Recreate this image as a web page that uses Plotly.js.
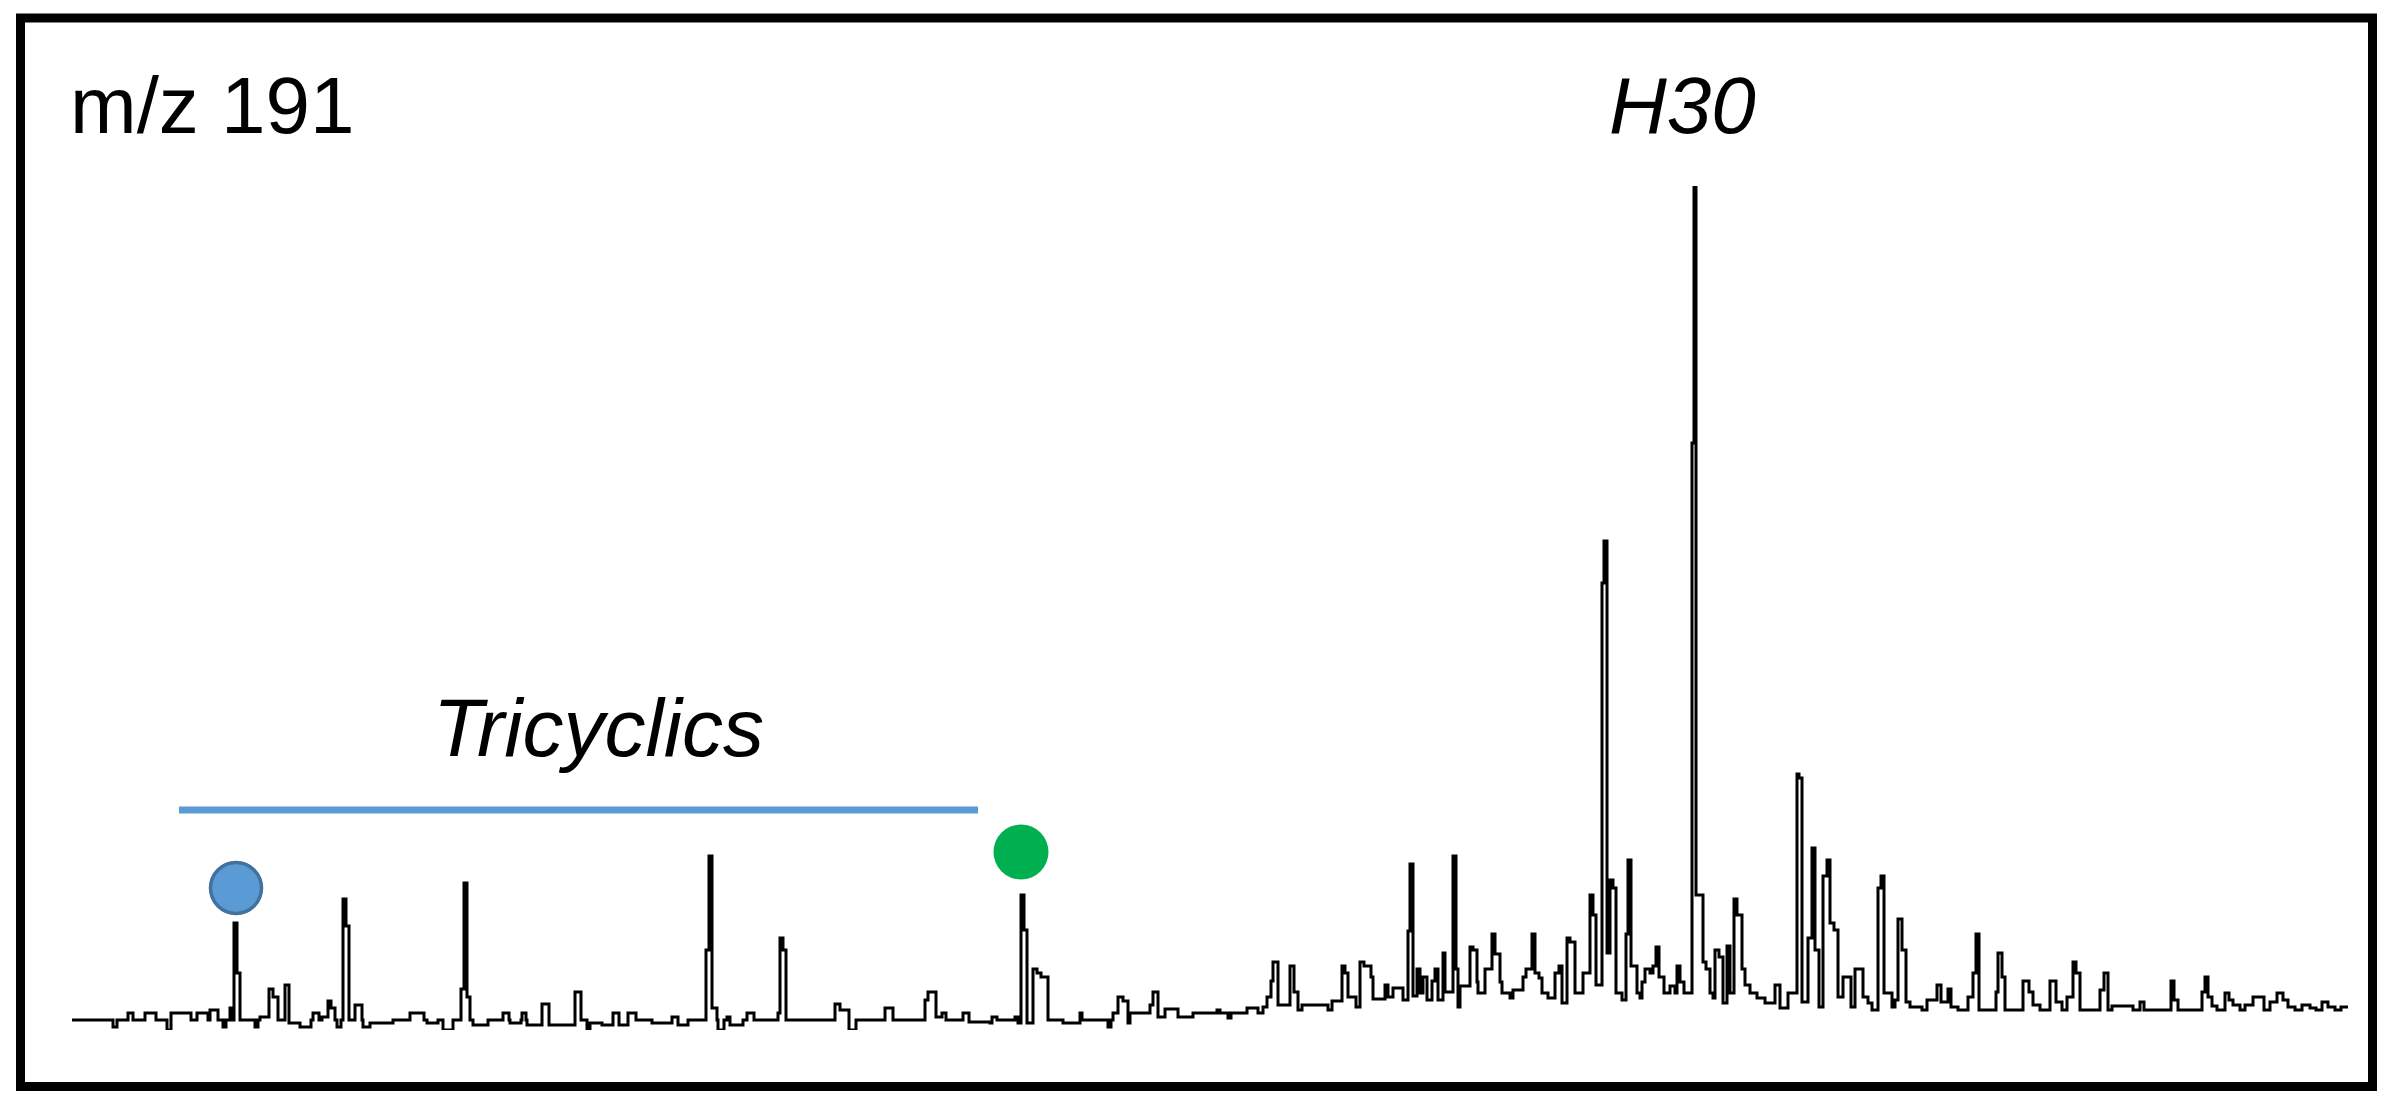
<!DOCTYPE html>
<html>
<head>
<meta charset="utf-8">
<script src="https://cdn.plot.ly/plotly-3.0.1.min.js"></script>
<style>
  html, body { margin: 0; padding: 0; background: #ffffff; }
  #chart { width: 2391px; height: 1108px; }
</style>
</head>
<body>
<div id="chart"></div>
<script>
// ---- Data (m/z 191) ----
// scan: scan number (arbitrary units), abundance: relative abundance (arbitrary units)
const scan = [0,41,45,56,61,73,84,95,99,119,125,136,138,146,151,154,158,161,162,165,168,183,186,188,197,201,206,213,217,228,239,241,247,250,256,259,263,265,269,271,274,277,283,290,291,298,321,338,352,355,366,371,381,389,392,395,398,401,416,431,437,438,449,450,454,455,470,477,503,509,515,518,530,541,547,556,564,580,600,606,616,634,637,640,645,646,652,655,658,671,675,682,706,708,711,714,763,768,777,784,813,821,853,856,864,870,874,891,897,918,920,925,943,946,949,952,955,961,965,969,976,991,1008,1010,1036,1039,1041,1046,1051,1056,1058,1078,1081,1086,1093,1106,1121,1145,1148,1156,1159,1175,1186,1191,1195,1199,1201,1206,1218,1222,1226,1230,1256,1260,1270,1273,1276,1284,1288,1292,1299,1301,1313,1316,1321,1331,1336,1338,1341,1345,1348,1351,1355,1360,1363,1366,1371,1373,1381,1384,1386,1388,1398,1401,1405,1406,1413,1420,1423,1428,1430,1438,1441,1451,1454,1460,1463,1467,1470,1476,1483,1487,1490,1495,1498,1503,1511,1518,1521,1524,1530,1532,1535,1538,1541,1544,1550,1554,1556,1559,1565,1568,1570,1573,1578,1581,1584,1587,1592,1598,1603,1605,1608,1612,1620,1622,1624,1631,1634,1638,1641,1643,1647,1651,1655,1658,1662,1665,1670,1673,1678,1685,1693,1703,1708,1716,1725,1727,1730,1736,1740,1743,1747,1751,1755,1758,1762,1766,1771,1779,1783,1791,1796,1800,1806,1809,1812,1820,1823,1826,1830,1834,1838,1850,1855,1865,1869,1876,1879,1886,1896,1901,1904,1907,1924,1926,1930,1933,1951,1957,1961,1968,1978,1984,1990,1995,2001,2004,2008,2028,2032,2036,2040,2061,2068,2072,2099,2102,2106,2130,2133,2136,2140,2145,2153,2157,2161,2168,2173,2181,2192,2198,2205,2211,2216,2223,2230,2238,2244,2250,2256,2263,2269,2276];
const abundance = [10,3,10,17,10,17,10,0,17,10,17,10,20,10,3,10,22,10,107,57,10,3,10,13,41,33,10,45,7,3,10,17,10,13,29,22,10,3,10,131,104,10,25,10,3,7,10,17,10,7,10,0,10,41,147,33,10,5,10,17,10,7,10,17,10,5,26,5,38,10,0,7,5,17,5,17,10,7,13,5,10,80,174,22,10,0,10,13,5,10,17,10,17,92,80,10,26,20,0,10,22,10,30,38,13,17,10,17,8,7,13,10,13,7,135,100,7,61,57,53,10,7,17,10,3,10,17,33,29,7,17,25,38,13,21,13,17,20,17,12,17,22,17,23,33,49,68,25,64,38,20,25,20,29,64,57,33,23,68,64,53,31,45,33,42,30,99,166,34,61,37,53,30,49,61,30,77,38,174,61,23,44,83,80,48,37,61,96,76,48,37,32,40,53,61,96,57,52,37,32,57,64,27,92,88,37,57,135,115,45,447,489,77,150,142,37,30,96,170,64,37,32,48,61,57,64,83,53,37,44,37,64,48,37,587,844,135,68,61,37,32,80,73,27,84,37,131,115,61,45,37,32,27,45,22,37,256,252,28,92,182,80,23,154,170,107,100,33,53,23,61,33,27,20,142,154,37,23,30,111,80,28,23,20,30,45,28,41,23,20,33,57,96,20,38,77,53,20,49,38,25,20,49,28,20,33,68,57,20,40,57,20,24,20,28,20,49,30,20,38,53,33,24,20,37,30,25,20,25,33,20,28,37,30,23,20,25,22,20,28,23,20,23,23];

// Marked peaks (blue = first tricyclic, green = last tricyclic) : scan and marker level
const markedPeakScan  = [164, 949];
const markedPeakLevel = [142, 178];
const markedPeakColor = ['#5B9BD5', '#00B050'];
const markedPeakEdge  = ['#41719C', '#00B050'];

// Tricyclics range bar (scan from/to, level)
const tricyclicsRange = [107, 906];
const tricyclicsLevel = 220;

// Labels
const ionLabel = 'm/z 191';
const groupLabel = 'Tricyclics';
const peakLabel = 'H30';
const peakLabelScan = 1610;

// ---- Layout geometry ----
const W = 2391, H = 1108;
const M = { l: 72, r: 43, t: 186, b: 78 };
const PW = W - M.l - M.r, PH = H - M.t - M.b;
const fx = px => (px - M.l) / PW;
const fy = py => (H - M.b - py) / PH;

const FONT = '"Liberation Sans", Arial, Helvetica, sans-serif';

const traces = [
  {
    type: 'scatter', mode: 'lines',
    x: scan, y: abundance,
    line: { color: '#000000', width: 3, shape: 'hv' },
    hoverinfo: 'x+y', showlegend: false
  },
  {
    type: 'scatter', mode: 'markers',
    x: markedPeakScan, y: markedPeakLevel,
    opacity: 1,
    marker: { size: [51, 55], color: markedPeakColor, opacity: 1,
              line: { color: markedPeakEdge, width: [3.5, 0] } },
    cliponaxis: false, showlegend: false, hoverinfo: 'skip'
  }
];

const layout = {
  width: W, height: H,
  margin: M,
  paper_bgcolor: '#ffffff', plot_bgcolor: '#ffffff',
  showlegend: false,
  xaxis: { range: [0, PW], visible: false, showgrid: false, zeroline: false, fixedrange: true },
  yaxis: { range: [0, PH], visible: false, showgrid: false, zeroline: false, fixedrange: true },
  shapes: [
    { type: 'rect', xref: 'paper', yref: 'paper',
      x0: fx(20.5), x1: fx(2372.5), y0: fy(1086.5), y1: fy(18),
      line: { color: '#000000', width: 9 }, fillcolor: 'rgba(0,0,0,0)', layer: 'above' },
    { type: 'line', xref: 'x', yref: 'y',
      x0: tricyclicsRange[0], x1: tricyclicsRange[1], y0: tricyclicsLevel, y1: tricyclicsLevel,
      line: { color: '#5B9BD5', width: 7 } }
  ],
  annotations: [
    { text: ionLabel, xref: 'paper', yref: 'paper', x: fx(68), y: fy(106),
      xanchor: 'left', yanchor: 'middle', showarrow: false,
      font: { family: FONT, size: 80, color: '#000000' } },
    { text: '<i>' + peakLabel + '</i>', xref: 'x', yref: 'paper', x: peakLabelScan, y: fy(106),
      xanchor: 'center', yanchor: 'middle', showarrow: false,
      font: { family: FONT, size: 80, color: '#000000' } },
    { text: '<i>' + groupLabel + '</i>', xref: 'x', yref: 'y',
      x: (tricyclicsRange[0] + tricyclicsRange[1]) / 2 + 20, y: fy(727) * PH,
      xanchor: 'center', yanchor: 'middle', showarrow: false,
      font: { family: FONT, size: 82, color: '#000000' } }
  ]
};

Plotly.newPlot('chart', traces, layout, { staticPlot: true, displayModeBar: false });
</script>
</body>
</html>
